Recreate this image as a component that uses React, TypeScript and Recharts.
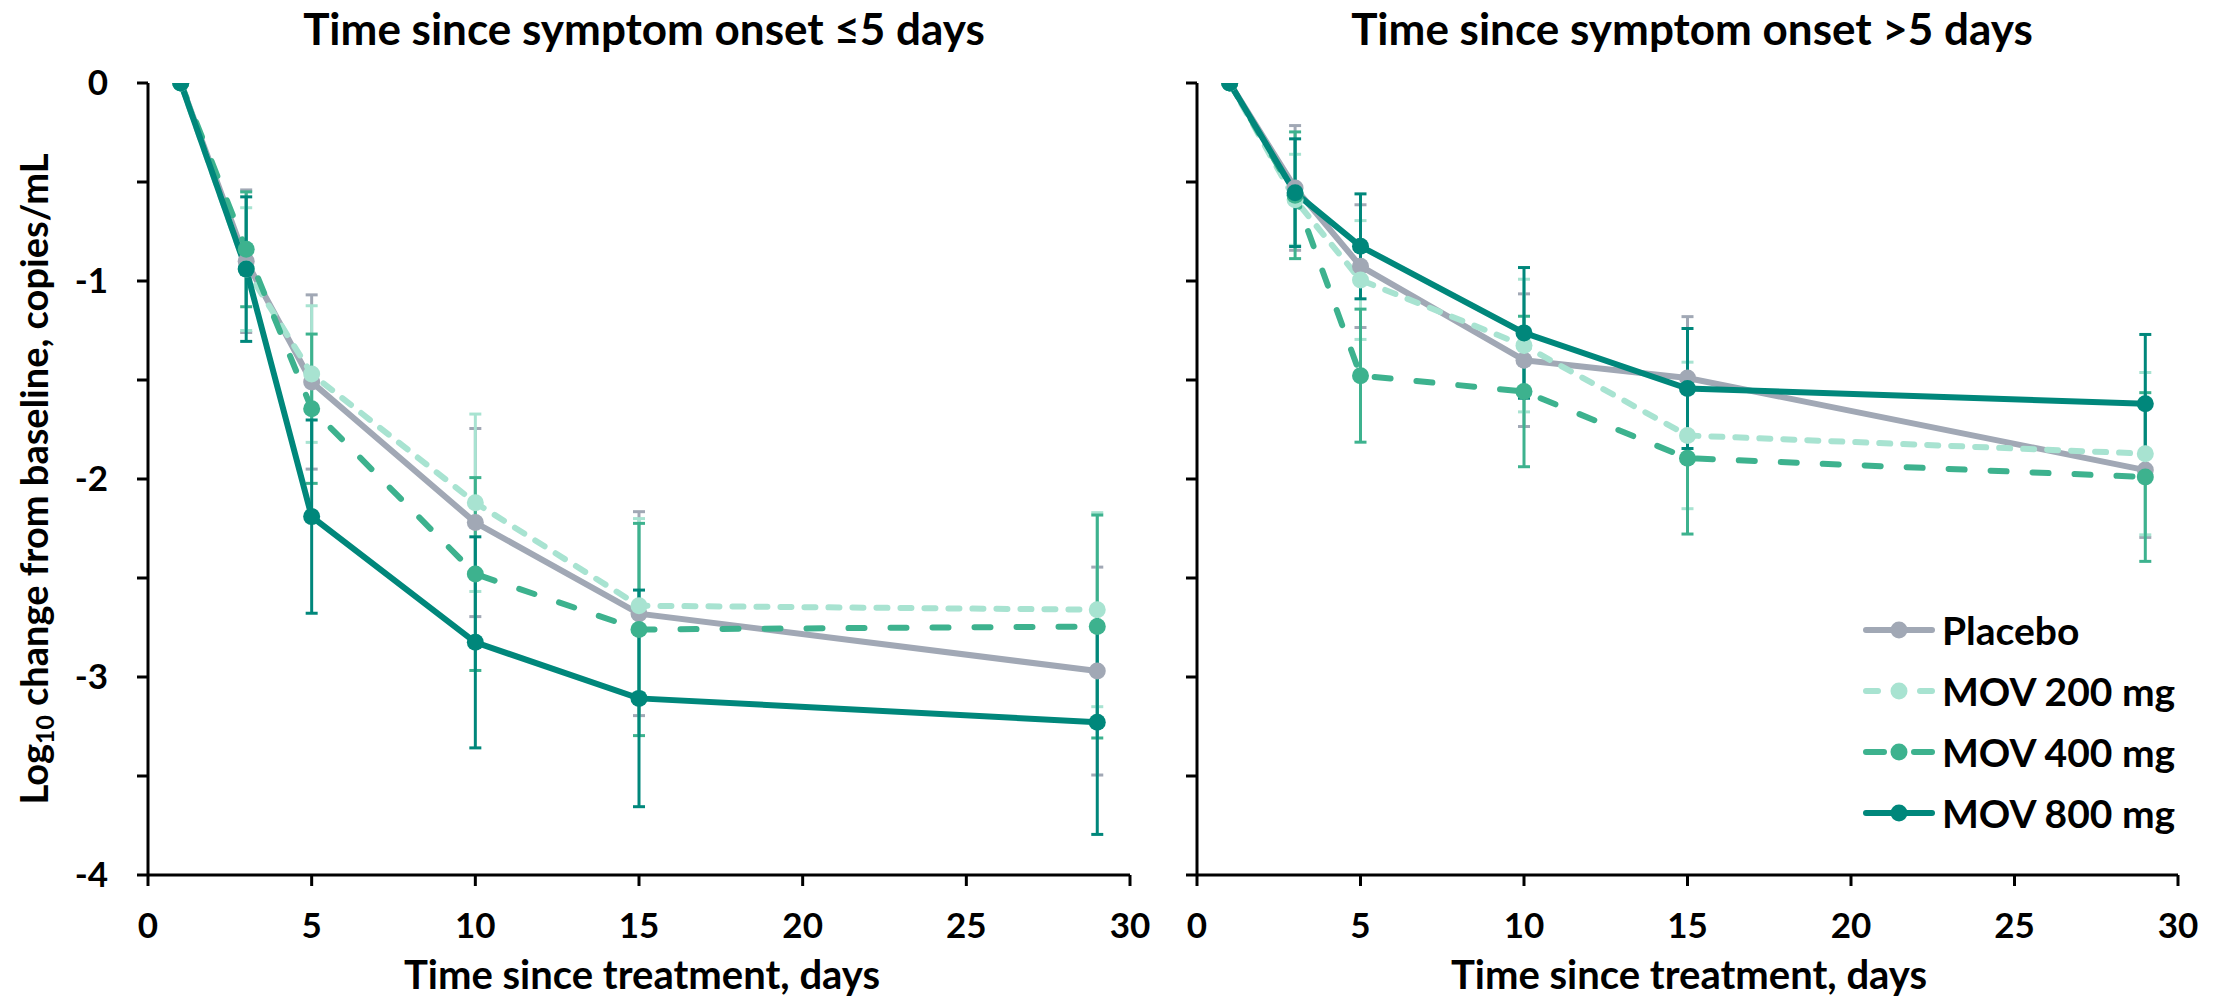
import React from 'react';
import { LineChart, Line, XAxis, YAxis, ErrorBar } from 'recharts';

const DAYS = [1, 3, 5, 10, 15, 29];
const X_TICKS = [0, 5, 10, 15, 20, 25, 30];
const Y_TICKS = [0, -0.5, -1, -1.5, -2, -2.5, -3, -3.5, -4];

// Time since symptom onset <=5 days (mean, and half-width of the error bar)
const EARLY_PLACEBO = [0, -0.9, -1.51, -2.22, -2.68, -2.97];
const EARLY_PLACEBO_ERR = [0, 0.36, 0.44, 0.475, 0.515, 0.525];
const EARLY_MOV200 = [0, -0.94, -1.47, -2.12, -2.64, -2.66];
const EARLY_MOV200_ERR = [0, 0.31, 0.345, 0.448, 0.44, 0.49];
const EARLY_MOV400 = [0, -0.84, -1.645, -2.48, -2.76, -2.745];
const EARLY_MOV400_ERR = [0, 0.29, 0.377, 0.487, 0.536, 0.563];
const EARLY_MOV800 = [0, -0.94, -2.19, -2.825, -3.108, -3.228];
const EARLY_MOV800_ERR = [0, 0.365, 0.488, 0.533, 0.547, 0.567];

// Time since symptom onset >5 days
const LATE_PLACEBO = [0, -0.53, -0.925, -1.4, -1.49, -1.955];
const LATE_PLACEBO_ERR = [0, 0.315, 0.31, 0.335, 0.31, 0.34];
const LATE_MOV200 = [0, -0.59, -0.995, -1.326, -1.78, -1.872];
const LATE_MOV200_ERR = [0, 0.23, 0.3, 0.335, 0.37, 0.41];
const LATE_MOV400 = [0, -0.567, -1.478, -1.558, -1.895, -1.99];
const LATE_MOV400_ERR = [0, 0.32, 0.336, 0.38, 0.383, 0.426];
const LATE_MOV800 = [0, -0.554, -0.825, -1.262, -1.543, -1.62];
const LATE_MOV800_ERR = [0, 0.272, 0.265, 0.33, 0.303, 0.35];

const SERIES = [
  { key: 'placebo', name: 'Placebo', color: '#a1a8b5', dash: undefined as string | undefined },
  { key: 'mov200', name: 'MOV 200 mg', color: '#a8e3d1', dash: '11 13' },
  { key: 'mov400', name: 'MOV 400 mg', color: '#3db28e', dash: '16 26' },
  { key: 'mov800', name: 'MOV 800 mg', color: '#00877b', dash: undefined as string | undefined },
];

function buildRows(vals: Record<string, number[]>, errs: Record<string, number[]>) {
  return DAYS.map((d, i) => {
    const row: any = { day: d };
    for (const k of Object.keys(vals)) {
      row[k] = vals[k][i];
      row[k + 'Err'] = errs[k][i];
    }
    return row;
  });
}

const earlyRows = buildRows(
  { placebo: EARLY_PLACEBO, mov200: EARLY_MOV200, mov400: EARLY_MOV400, mov800: EARLY_MOV800 },
  { placebo: EARLY_PLACEBO_ERR, mov200: EARLY_MOV200_ERR, mov400: EARLY_MOV400_ERR, mov800: EARLY_MOV800_ERR },
);
const lateRows = buildRows(
  { placebo: LATE_PLACEBO, mov200: LATE_MOV200, mov400: LATE_MOV400, mov800: LATE_MOV800 },
  { placebo: LATE_PLACEBO_ERR, mov200: LATE_MOV200_ERR, mov400: LATE_MOV400_ERR, mov800: LATE_MOV800_ERR },
);

const FONT = 'Lato, "Open Sans", sans-serif';
const tickFont = { fill: '#000', fontSize: 35, fontWeight: 700, fontFamily: FONT };
const axisLine = { stroke: '#000', strokeWidth: 3 };

function Panel({ data, left, width, yAxisWidth, marginRight, labels }: any) {
  return (
    <div style={{ position: 'absolute', left, top: 0 }}>
      <LineChart width={width} height={997} data={data} margin={{ top: 83, right: marginRight, bottom: 0, left: 0 }}>
        <XAxis
          dataKey="day" type="number" domain={[0, 30]} ticks={X_TICKS} interval={0}
          height={122} axisLine={axisLine} tickLine={axisLine} tickSize={11} tickMargin={27}
          tick={tickFont}
        />
        <YAxis
          type="number" domain={[-4, 0]} ticks={Y_TICKS} interval={0} allowDataOverflow
          width={yAxisWidth} axisLine={axisLine} tickLine={axisLine} tickSize={11} tickMargin={29}
          tick={tickFont}
          tickFormatter={(v: number) => (labels && Number.isInteger(v) ? String(v) : '')}
        />
        {SERIES.map((s) => (
          <Line
            key={s.key} dataKey={s.key} name={s.name} type="linear"
            stroke={s.color} strokeWidth={6} strokeDasharray={s.dash} strokeLinecap="round"
            dot={{ r: 8.5, fill: s.color, stroke: 'none', strokeWidth: 0 }} activeDot={false}
            isAnimationActive={false}
          >
            <ErrorBar dataKey={s.key + 'Err'} direction="y" width={6} strokeWidth={3} stroke={s.color} isAnimationActive={false} />
          </Line>
        ))}
      </LineChart>
    </div>
  );
}

function LegendIcon({ color, kind }: { color: string; kind: string }) {
  const segs =
    kind === 'short' ? [[4, 16], [58, 70]] : kind === 'long' ? [[4, 22], [52, 70]] : [[4, 70]];
  return (
    <svg width={74} height={20} style={{ display: 'block' }}>
      {segs.map(([a, b], i) => (
        <line key={i} x1={a} y1={10} x2={b} y2={10} stroke={color} strokeWidth={6} strokeLinecap="round" />
      ))}
      <circle cx={37} cy={10} r={8.5} fill={color} />
    </svg>
  );
}

const titleStyle = (cx: number, cy: number, fs: number): React.CSSProperties => ({
  position: 'absolute', left: cx, top: cy, transform: 'translate(-50%, -50%)',
  fontFamily: FONT, fontWeight: 700, fontSize: fs, whiteSpace: 'nowrap', color: '#000', lineHeight: 1,
});

export default function App() {
  const legendKinds = ['solid', 'short', 'long', 'solid'];
  return (
    <div style={{ position: 'absolute', left: 0, top: 0, width: 2228, height: 997, background: '#fff', overflow: 'hidden' }}>
      <Panel data={earlyRows} left={0} width={1160} yAxisWidth={148} marginRight={30} labels />
      <Panel data={lateRows} left={1160} width={1068} yAxisWidth={37} marginRight={50} labels={false} />

      <div style={titleStyle(644, 28, 44)}>Time since symptom onset ≤5 days</div>
      <div style={titleStyle(1692, 28, 44)}>Time since symptom onset &gt;5 days</div>
      <div style={titleStyle(642, 974, 40)}>Time since treatment, days</div>
      <div style={titleStyle(1689, 974, 40)}>Time since treatment, days</div>
      <div style={{ ...titleStyle(36, 479, 38), transform: 'translate(-50%, -50%) rotate(-90deg)' }}>
        Log<sub style={{ fontSize: '0.65em', verticalAlign: '-0.25em' }}>10</sub> change from baseline, copies/mL
      </div>

      <div style={{ position: 'absolute', left: 1862, top: 599 }}>
        {SERIES.map((s, i) => (
          <div key={s.key} style={{ display: 'flex', alignItems: 'center', height: 61 }}>
            <LegendIcon color={s.color} kind={legendKinds[i]} />
            <span style={{ marginLeft: 6, fontFamily: FONT, fontWeight: 700, fontSize: 39, color: '#000' }}>{s.name}</span>
          </div>
        ))}
      </div>
    </div>
  );
}
